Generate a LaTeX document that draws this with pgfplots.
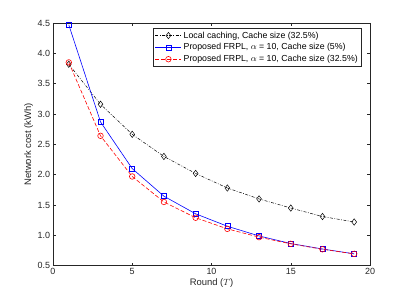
\documentclass[border=0pt]{standalone}
\usepackage{pgfplots}
\pgfplotsset{compat=1.18}
\usepackage{fontspec}
\setmainfont{Liberation Sans}
\definecolor{axgray}{gray}{0.15}
\begin{document}
\fontsize{8}{9.5}\selectfont
\begin{tikzpicture}
\path[use as bounding box] (-53bp,-34bp) rectangle (356.5bp,266bp);
\begin{axis}[
  at={(0,0)}, anchor=south west,
  scale only axis,
  width=317.5bp, height=243bp,
  xmin=0, xmax=20, ymin=0.5, ymax=4.5,
  xtick={0,5,10,15,20},
  ytick={0.5,1,...,4.5},
  yticklabel style={/pgf/number format/.cd, fixed, fixed zerofill, precision=1},
  /pgf/number format/assume math mode=true,
  tick align=inside,
  major tick length=3bp,
  axis line style={axgray, line width=0.5pt},
  tick style={axgray, line width=0.5pt},
  ticklabel style={font=\fontsize{9}{10.5}\selectfont, text=axgray},
  label style={font=\fontsize{9.5}{11}\selectfont, text=axgray},
  xlabel={Round ($T$)},
  ylabel={Network cost (kWh)},
  xlabel style={yshift=2bp},
  ylabel style={yshift=-1bp},
  legend style={at={(0.973,0.979)}, anchor=north east, font=\fontsize{8.8}{10}\selectfont,
    draw=axgray, line width=0.5pt, inner sep=1.5bp, row sep=0.3bp, cells={anchor=west}},
  legend image code/.code={\draw[mark repeat=2,mark phase=2,#1] plot coordinates {(0bp,0bp) (13bp,0bp) (26bp,0bp)};},
]
\addplot[black, line width=0.5pt, dash pattern=on 3pt off 1.5pt on 0.8pt off 1.5pt, mark=diamond, mark size=3.2bp, mark options={solid, fill=none}]
coordinates {(1,3.82) (3,3.16) (5,2.665) (7,2.30) (9,2.02) (11,1.78) (13,1.60) (15,1.45) (17,1.31) (19,1.22)};
\addlegendentry{Local caching, Cache size (32.5\%)}
\addplot[blue, line width=0.6pt, mark=square, mark size=2.5bp, mark options={solid, fill=none}]
coordinates {(1,4.47) (3,2.87) (5,2.10) (7,1.645) (9,1.355) (11,1.15) (13,0.99) (15,0.865) (17,0.775) (19,0.695)};
\addlegendentry{Proposed FRPL, $\alpha$ = 10, Cache size (5\%)}
\addplot[red, line width=0.6pt, dash pattern=on 4pt off 2pt, mark=o, mark size=2.8bp, mark options={solid, fill=none}]
coordinates {(1,3.85) (3,2.64) (5,1.97) (7,1.55) (9,1.29) (11,1.107) (13,0.97) (15,0.86) (17,0.77) (19,0.695)};
\addlegendentry{Proposed FRPL, $\alpha$ = 10, Cache size (32.5\%)}
\end{axis}
\end{tikzpicture}
\end{document}
